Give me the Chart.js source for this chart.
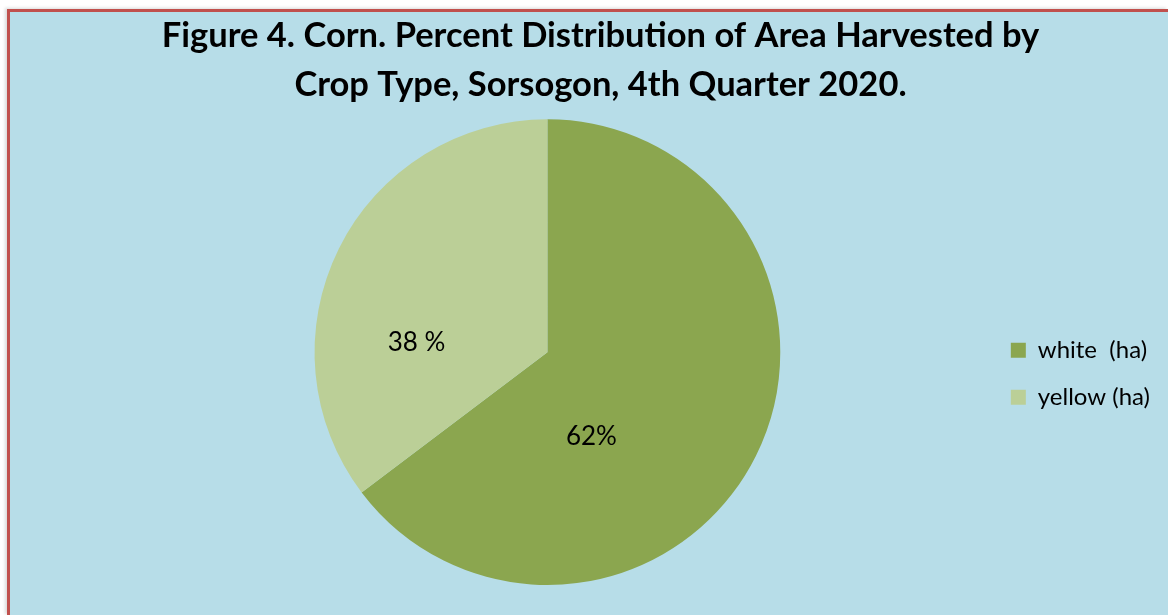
<!DOCTYPE html>
<html lang="en">
<head>
    <meta charset="UTF-8">
    <title>Figure 4. Corn. Percent Distribution of Area Harvested by Crop Type</title>
    <style>
        html, body {
            margin: 0;
            padding: 0;
            background: #fff;
            overflow: hidden;
        }
        #chartBox {
            position: absolute;
            left: 7px;
            top: 9px;
            width: 1161px;
            height: 606px;
            box-sizing: border-box;
            border-left: 3px solid #c0504d;
            border-top: 3px solid #c0504d;
            background: #b7dde8;
            box-shadow: -2px -1px 3px rgba(0, 0, 0, 0.15);
        }
        #chartBox canvas {
            display: block;
        }
    </style>
    <script src="https://cdn.jsdelivr.net/npm/chart.js"></script>
</head>
<body>

<div id="chartBox">
    <canvas id="pieChart" width="1158" height="603"></canvas>
</div>

<script>
// chart data
const titleLines = ['Figure 4. Corn. Percent Distribution of Area Harvested by', 'Crop Type, Sorsogon, 4th Quarter 2020.'];
const cropTypes = ['white  (ha)', 'yellow (ha)'];
const shares = [64.7, 35.3];
const shareLabels = ['62%', '38 %'];
const sliceColors = ['#8ba64f', '#bbcf97'];

// draws the percent text on each slice (offsets are fractions of the radius)
const sliceLabels = {
    id: 'sliceLabels',
    afterDatasetsDraw(chart, args, opts) {
        const ctx = chart.ctx;
        const arcs = chart.getDatasetMeta(0).data;
        ctx.save();
        ctx.font = opts.font;
        ctx.fillStyle = opts.color;
        ctx.textAlign = 'center';
        ctx.textBaseline = 'middle';
        arcs.forEach(function (arc, i) {
            const p = arc.getProps(['x', 'y', 'outerRadius'], true);
            const off = opts.offsets[i];
            ctx.fillText(shareLabels[i], p.x + off[0] * p.outerRadius, p.y + off[1] * p.outerRadius);
        });
        ctx.restore();
    }
};

// the title in the original sits centred on the whole frame, not over the pie
const titleShift = {
    id: 'titleShift',
    afterLayout(chart, args, opts) {
        const t = chart.titleBlock;
        if (t) {
            t.left += opts.dx;
            t.right += opts.dx;
        }
    }
};

const ctx = document.getElementById('pieChart').getContext('2d');
new Chart(ctx, {
    type: 'pie',
    data: {
        labels: cropTypes,
        datasets: [{
            data: shares,
            backgroundColor: sliceColors,
            borderWidth: 0
        }]
    },
    options: {
        responsive: false,
        animation: false,
        layout: {
            padding: { left: 97, right: 8, top: 0, bottom: 30 }
        },
        plugins: {
            title: {
                display: true,
                text: titleLines,
                color: '#000',
                font: { family: 'Lato', size: 34.5, weight: 'bold', lineHeight: 1.41 },
                padding: { top: 0, bottom: 10 }
            },
            legend: {
                position: 'right',
                title: {
                    display: true,
                    text: ' ',
                    padding: { top: 126, bottom: 10 }
                },
                labels: {
                    color: '#000',
                    font: { family: 'Lato', size: 24 },
                    boxWidth: 15,
                    boxHeight: 15,
                    padding: 23
                }
            },
            tooltip: { enabled: false },
            titleShift: { dx: -33 },
            sliceLabels: {
                font: '26px Lato',
                color: '#000',
                offsets: [[0.189, 0.363], [-0.562, -0.040]]
            }
        }
    },
    plugins: [sliceLabels, titleShift]
});
</script>

</body>
</html>
